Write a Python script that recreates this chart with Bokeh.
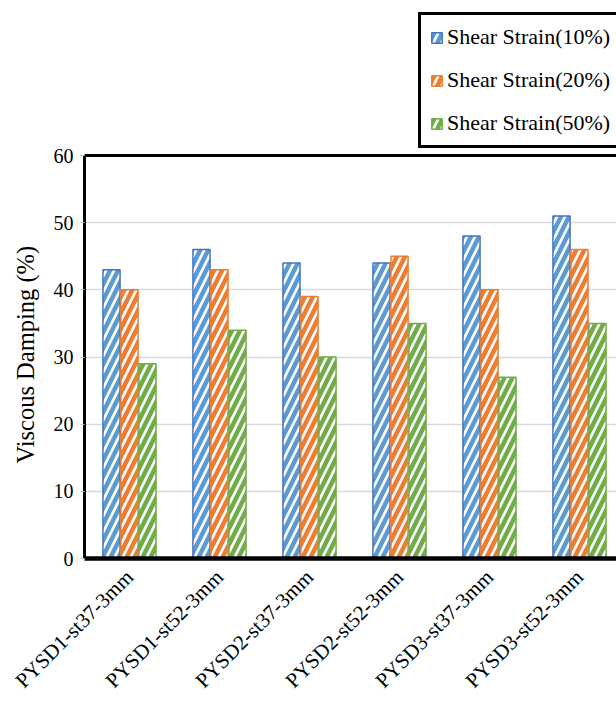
from math import pi

from bokeh.embed import file_html
from bokeh.models import (ColumnDataSource, FixedTicker, Legend, LegendItem,
                          LinearAxis, Range1d, Span, Title)
from bokeh.plotting import figure
from bokeh.resources import INLINE
from bokeh.transform import dodge

# Viscous damping of each specimen at three shear-strain levels
specimens = ["PYSD1-st37-3mm", "PYSD1-st52-3mm", "PYSD2-st37-3mm",
             "PYSD2-st52-3mm", "PYSD3-st37-3mm", "PYSD3-st52-3mm"]
strain_10 = [43, 46, 44, 44, 48, 51]
strain_20 = [40, 43, 39, 45, 40, 46]
strain_50 = [29, 34, 30, 35, 27, 35]
series_names = ["Shear Strain(10%)", "Shear Strain(20%)", "Shear Strain(50%)"]
y_ticks = [0, 10, 20, 30, 40, 50, 60]

FONT = "Liberation Serif"
positions = [i + 0.5 for i in range(len(specimens))]

src = ColumnDataSource(dict(x=positions, s10=strain_10, s20=strain_20, s50=strain_50))

# The frame runs up to the top of the page so the legend can sit above the
# value area; the value axis itself stops at 60.
p = figure(width=616, height=704, output_backend="svg", toolbar_location=None,
           x_range=Range1d(0, 5.911), y_range=Range1d(0, 83.08),
           min_border_left=84, min_border_right=0, min_border_top=0,
           min_border_bottom=146, outline_line_color=None)
p.background_fill_color = "white"
p.border_fill_color = "white"

# grid
p.xgrid.grid_line_color = None
p.ygrid.grid_line_color = "#D9D9D9"
p.ygrid.grid_line_width = 1.5
p.ygrid.ticker = FixedTicker(ticks=y_ticks)

# y axis
ya = p.yaxis[0]
ya.bounds = (0, 60)
ya.ticker = FixedTicker(ticks=y_ticks)
ya.major_label_text_font = FONT
ya.major_label_text_font_size = "20px"
ya.major_label_text_color = "black"
ya.major_label_standoff = 7
ya.axis_line_color = "black"
ya.axis_line_width = 3
ya.major_tick_line_color = "#BFBFBF"
ya.major_tick_in = 0
ya.major_tick_out = 4
ya.minor_tick_line_color = None
ya.minor_tick_out = 0

# empty axis that only keeps a gap between tick labels and the axis title
gap = LinearAxis(ticker=FixedTicker(ticks=[]), axis_line_color=None,
                 major_label_text_font_size="0px", major_label_standoff=0,
                 major_tick_in=0, major_tick_out=16, minor_tick_in=0,
                 minor_tick_out=0, major_tick_line_color=None,
                 minor_tick_line_color=None)
p.add_layout(gap, "left")

# value-axis title, centred on the 0-60 span
ytitle = Title(text="Viscous Damping (%)", align="left", offset=95,
               vertical_align="top", standoff=20,
               text_font=FONT, text_font_size="24.5px",
               text_font_style="normal", text_color="black")
p.add_layout(ytitle, "left")

# x axis with the specimen names
xa = p.xaxis[0]
xa.ticker = FixedTicker(ticks=positions)
xa.major_label_overrides = {pos: name for pos, name in zip(positions, specimens)}
xa.major_label_orientation = pi / 4
xa.major_label_text_font = FONT
xa.major_label_text_font_size = "21px"
xa.major_label_text_color = "black"
xa.major_label_standoff = 15
xa.axis_line_color = "black"
xa.axis_line_width = 4.5
xa.major_tick_line_color = None
xa.major_tick_in = 0
xa.major_tick_out = 0
xa.minor_tick_line_color = None
xa.minor_tick_out = 0

# top border of the value area
p.add_layout(Span(location=60, dimension="width", line_color="black", line_width=3))

series = [("s10", -0.2, "#4472C4", "#5B9BD5"),
          ("s20", 0.0, "#ED7D31", "#ED7D31"),
          ("s50", 0.2, "#70AD47", "#70AD47")]
items = []
for (col, off, edge, hatch), name in zip(series, series_names):
    r = p.vbar(x=dodge("x", off, range=p.x_range), top=col, width=0.19, source=src,
               fill_color="white", line_color=edge, line_width=1.5,
               hatch_pattern="/", hatch_color=hatch, hatch_weight=4.5,
               hatch_scale=16)
    items.append(LegendItem(label=name, renderers=[r]))

legend = Legend(items=items, location=(334, 410), orientation="vertical",
                label_text_font=FONT, label_text_font_size="22px",
                label_text_color="black", label_standoff=4,
                glyph_width=13, glyph_height=13, label_height=20,
                label_width=190, spacing=17, padding=9,
                border_line_color="black", border_line_width=3,
                border_line_alpha=1.0,
                background_fill_color="white", background_fill_alpha=1.0,
                margin=0)
p.add_layout(legend, "center")

open("out.html", "w").write(file_html(p, INLINE))
